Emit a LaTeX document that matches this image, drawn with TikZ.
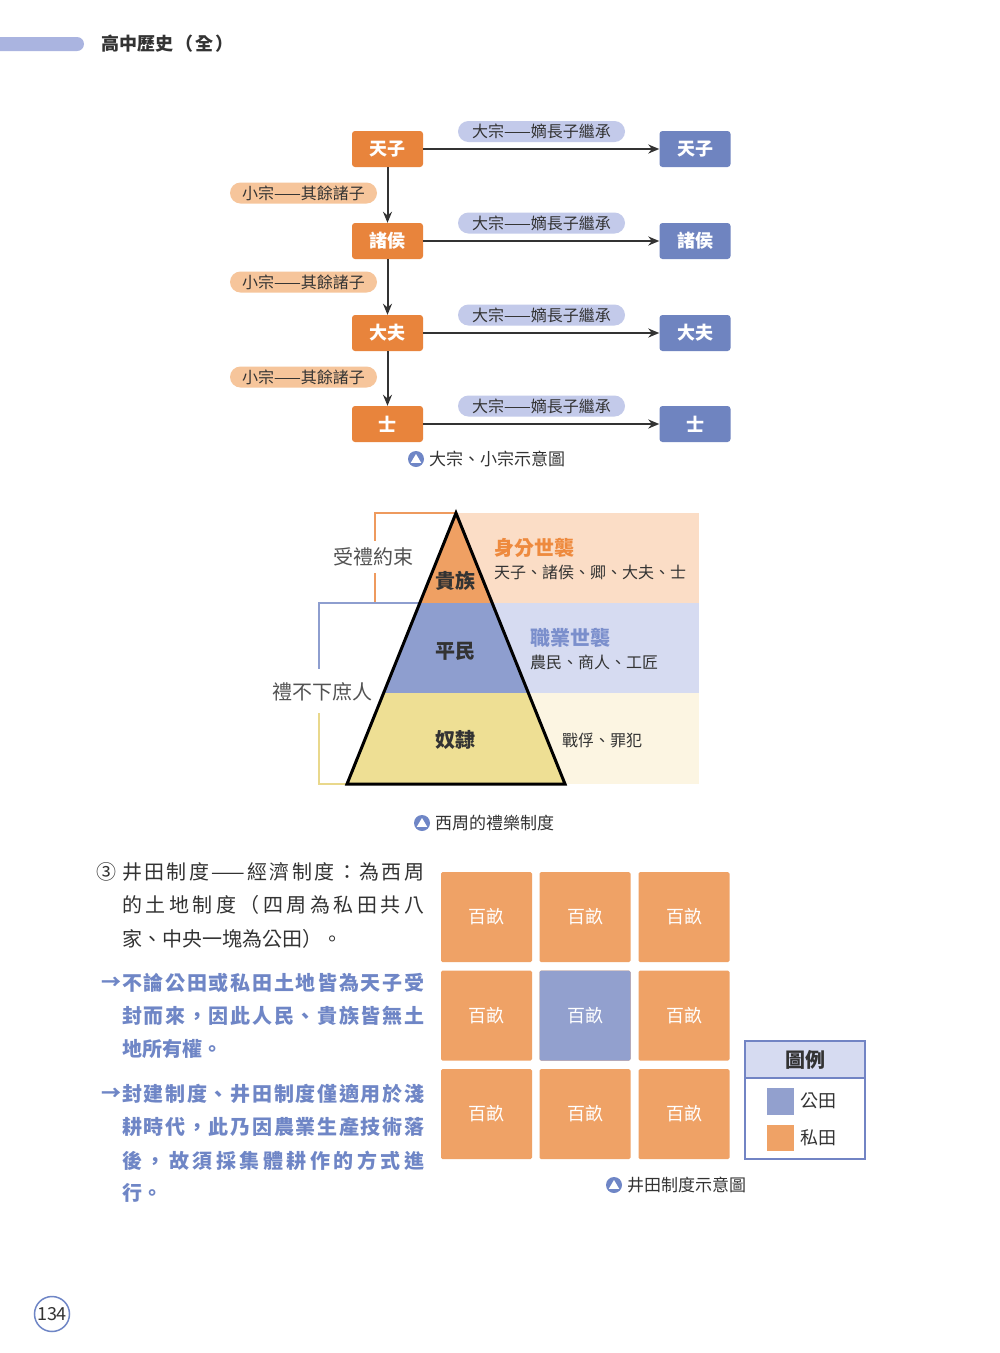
\documentclass[tikz,border=0pt]{standalone}
\usepackage{fontspec}
\setmainfont{Noto Sans CJK TC}
\usetikzlibrary{arrows.meta,calc}
\definecolor{orgbox}{HTML}{E8843C}
\definecolor{bluebox}{HTML}{6F84C0}
\definecolor{pillblue}{HTML}{C3CAEA}
\definecolor{pillorg}{HTML}{F6C59B}
\definecolor{pyrorg}{HTML}{EFA063}
\definecolor{pyrblue}{HTML}{8E9ECF}
\definecolor{pyryel}{HTML}{EEDF94}
\definecolor{ltorg}{HTML}{FBDDC6}
\definecolor{ltblue}{HTML}{D6DBF1}
\definecolor{ltyel}{HTML}{FCF5E2}
\definecolor{txtorg}{HTML}{EE8A3E}
\definecolor{txtblue}{HTML}{7B8FCC}
\definecolor{cellorg}{HTML}{EFA266}
\definecolor{cellblue}{HTML}{92A0CE}
\definecolor{legline}{HTML}{7284C4}
\definecolor{parblue}{HTML}{6F86C6}
\definecolor{hdrbar}{HTML}{AAB4E0}
\definecolor{dk}{HTML}{333333}
\definecolor{brorg}{HTML}{EE9A5E}
\definecolor{brblue}{HTML}{8E9ECF}
\definecolor{bryel}{HTML}{E9D88C}
\newcommand\fsz[1]{\fontsize{#1}{#1}\selectfont}
\def\sprA#1{\ifx#1\relax\else#1\expandafter\sprB\fi}
\def\sprB#1{\ifx#1\relax\else\hfill#1\expandafter\sprB\fi}
\newcommand\sprw[2]{\makebox[#1][l]{\sprA#2\relax}}
\newcommand\spr[1]{\sprw{302pt}{#1}}
\newcommand\ddash{——}
\tikzset{
  flowbox/.style={rectangle, rounded corners=3pt, minimum width=71pt, minimum height=36pt, text=white, font=\fsz{18}\bfseries, inner sep=0pt},
  orgb/.style={flowbox, fill=orgbox},
  blub/.style={flowbox, fill=bluebox},
  pillbox/.style={rectangle, rounded corners=10.5pt, minimum height=21pt, text=dk, font=\fsz{16}, inner sep=0pt},
  bigpill/.style={pillbox, fill=pillblue, minimum width=167pt},
  smallpill/.style={pillbox, fill=pillorg, minimum width=147pt},
  flowarr/.style={draw=dk, line width=2pt, -{Stealth[length=11pt,width=9pt]}},
  captxt/.style={anchor=west, inner sep=0pt, text=dk, font=\fsz{17}},
  capicon/.style={circle, fill=parblue, minimum size=16pt, inner sep=0pt},
  pyrlab/.style={text=dk, font=\fsz{20}\bfseries, inner sep=0pt},
  sidelab/.style={anchor=west, inner sep=0pt, text=dk, font=\fsz{16}},
  bracklab/.style={inner sep=0pt, text=dk!85, font=\fsz{20}},
  partxt/.style={anchor=west, inner sep=0pt, text=dk, font=\fsz{20}},
  parblu/.style={anchor=west, inner sep=0pt, text=parblue, font=\fsz{20}\bfseries},
  cell/.style={rectangle, rounded corners=1.5pt, minimum width=91pt, minimum height=90pt, text=white, font=\fsz{18}, inner sep=0pt},
  ocell/.style={cell, fill=cellorg},
  bcell/.style={cell, fill=cellblue},
  legtxt/.style={anchor=west, inner sep=0pt, text=dk, font=\fsz{18}},
}
\newcommand\capicon[2]{%
  \node[capicon] (#1) at #2 {};
  \fill[white] ($(#1)+(0,-5)$) -- ($(#1)+(5.2,3.8)$) -- ($(#1)+(-5.2,3.8)$) -- cycle;}
\begin{document}
\begin{tikzpicture}[x=1pt,y=-1pt]
\useasboundingbox (0,0) rectangle (1000,1353);
\fill[white] (0,0) rectangle (1000,1353);
% header
\fill[hdrbar, rounded corners=7pt] (-20,37) rectangle (84,51);
\node[anchor=west, inner sep=0pt, text=dk, font=\fsz{18}\bfseries] (title) at (101,44) {高中歷史\hspace{2pt}（\hspace{2pt}全\hspace{2pt}）};
% flowchart
\foreach \i/\t/\y/\py in {1/天子/149/131.5, 2/諸侯/241/223, 3/大夫/333/315, 4/士/424/406}{
  \node[orgb] (L\i) at (387.5,\y) {\t};
  \node[blub] (R\i) at (695,\y) {\t};
  \draw[flowarr] (L\i) -- (R\i);
  \node[bigpill] (P\i) at (541.5,\py) {大宗——嫡長子繼承};
}
\foreach \a/\b/\y in {1/2/193, 2/3/282, 3/4/377}{
  \draw[flowarr] (L\a) -- (L\b);
  \node[smallpill] (S\a) at (303.5,\y) {小宗——其餘諸子};
}
\capicon{ic1}{(416,459)}
\node[captxt] (cap1) at (429,459) {大宗、小宗示意圖};
% pyramid
\fill[ltorg] (456,513) rectangle (699,603);
\fill[ltblue] (456,603) rectangle (699,693);
\fill[ltyel] (456,693) rectangle (699,784);
\fill[pyrorg] (456,513) -- (492.2,603) -- (419.8,603) -- cycle;
\fill[pyrblue] (419.8,603) -- (492.2,603) -- (528.4,693) -- (383.6,693) -- cycle;
\fill[pyryel] (383.6,693) -- (528.4,693) -- (565,784) -- (347,784) -- cycle;
\draw[brorg, line width=2pt] (456,513) -- (375,513) -- (375,541);
\draw[brorg, line width=2pt] (375,573) -- (375,603);
\draw[brblue, line width=2pt] (420,603) -- (319,603) -- (319,669);
\draw[bryel, line width=2pt] (319,713) -- (319,784) -- (347,784);
\draw[black, line width=3pt, line join=miter] (456,513) -- (565,784) -- (347,784) -- cycle;
\node[bracklab] (lab1) at (373,557) {受禮約束};
\node[bracklab] (lab2) at (322.5,692) {禮不下庶人};
\node[pyrlab] (pa) at (455,581) {貴族};
\node[pyrlab] (pb) at (455,651) {平民};
\node[pyrlab] (pc) at (455,740) {奴隸};
\node[anchor=west, inner sep=0pt, text=txtorg, font=\fsz{20}\bfseries] (ha) at (494,548) {身分世襲};
\node[sidelab] (sa) at (494,572) {天子、諸侯、卿、大夫、士};
\node[anchor=west, inner sep=0pt, text=txtblue, font=\fsz{20}\bfseries] (hb) at (530,638) {職業世襲};
\node[sidelab] (sb) at (530,662) {農民、商人、工匠};
\node[sidelab] (sc) at (562,740) {戰俘、罪犯};
\capicon{ic2}{(422,823)}
\node[captxt] (cap2) at (435,823) {西周的禮樂制度};
% text block
\node[inner sep=0pt, text=dk, font=\fsz{20}] (num) at (106,872) {③};
\node[partxt] (t1) at (122,872) {\spr{井田制度\ddash 經濟制度：為西周}};
\node[partxt] (t2) at (122,905) {\spr{的土地制度（四周為私田共八}};
\node[partxt] (t3) at (122,939) {家、中央一塊為公田）。};
\node[inner sep=0pt, text=parblue, font=\fsz{20}\bfseries] (ar1) at (111,983) {→};
\node[parblu] (b1) at (122,983) {\spr{不論公田或私田土地皆為天子受}};
\node[parblu] (b2) at (122,1016) {\spr{封而來，因此人民、貴族皆無土}};
\node[parblu] (b3) at (122,1049) {地所有權。};
\node[inner sep=0pt, text=parblue, font=\fsz{20}\bfseries] (ar2) at (111,1094) {→};
\node[parblu] (b4) at (122,1094) {\spr{封建制度、井田制度僅適用於淺}};
\node[parblu] (b5) at (122,1127) {\spr{耕時代，此乃因農業生產技術落}};
\node[parblu] (b6) at (122,1161) {\spr{後，故須採集體耕作的方式進}};
\node[parblu] (b7) at (122,1193) {行。};
% grid
\foreach \c/\x in {1/486.5, 2/585, 3/684}{
  \foreach \r/\y in {1/917, 2/1015.5, 3/1114}{
    \node[ocell] (g\c\r) at (\x,\y) {百畝};
  }
}
\node[bcell] (g22b) at (585,1015.5) {百畝};
% legend
\draw[legline, line width=2pt, fill=white] (745,1041) rectangle (865,1159);
\draw[legline, line width=2pt, fill=ltblue] (745,1041) rectangle (865,1078);
\node[inner sep=0pt, text=dk, font=\fsz{20}\bfseries] (legt) at (805,1059.5) {圖例};
\fill[cellblue] (767,1088) rectangle (794,1115);
\fill[cellorg] (767,1125) rectangle (794,1151);
\node[legtxt] (lg1) at (800,1101) {公田};
\node[legtxt] (lg2) at (800,1138) {私田};
\capicon{ic3}{(614,1185)}
\node[captxt] (cap3) at (627,1185) {井田制度示意圖};
% page number
\draw[parblue, line width=1.5pt] (52,1314) circle (17.5);
\node[inner sep=0pt, text=dk, font=\fsz{18}] (pg) at (52,1314) {134};
\end{tikzpicture}
\end{document}
